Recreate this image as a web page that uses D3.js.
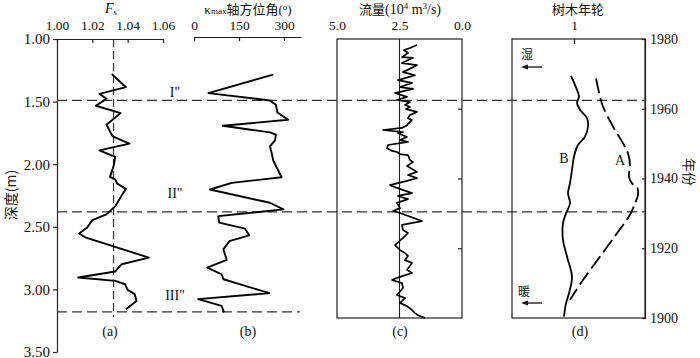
<!DOCTYPE html>
<html><head><meta charset="utf-8">
<script src="https://cdn.jsdelivr.net/npm/d3@7"></script>
<style>
body{margin:0;background:#fff;}
text{font-family:"Liberation Serif","Noto Sans CJK SC",serif;fill:#111;}
.cjk{font-family:"Noto Sans CJK SC","Liberation Serif",sans-serif;}
</style></head>
<body><svg id="c" width="700" height="358"></svg>
<script>
// ---------- data ----------
const depthTicks = [1.00, 1.50, 2.00, 2.50, 3.00, 3.50];
const fsTicks = [1.00, 1.02, 1.04, 1.06];
const azTicks = [0, 150, 300];
const flowTicks = [5.0, 2.5, 0.0];
const ringTicks = [1];
const yearTicks = [1980, 1960, 1940, 1920, 1900];
const innerYearTicks = [1960, 1940, 1920];

const fsDepth = [1.28,1.385,1.438,1.478,1.533,1.592,1.685,1.778,1.836,1.889,1.942,2.017,2.101,2.123,2.154,2.197,2.229,2.335,2.401,2.447,2.507,2.553,2.587,2.746,2.799,2.857,2.905,2.932,2.959,3.004,3.038,3.092,3.158];
const fsValues = [1.031,1.039,1.024,1.028,1.022,1.036,1.028,1.0315,1.041,1.024,1.033,1.032,1.030,1.033,1.034,1.039,1.0375,1.033,1.028,1.020,1.017,1.0125,1.0164,1.052,1.0366,1.033,1.012,1.033,1.0385,1.040,1.044,1.045,1.039];
const fsRef = 1.032;

const azDepth = [1.284,1.432,1.491,1.525,1.587,1.645,1.693,1.746,1.764,1.810,1.857,1.910,1.969,2.104,2.149,2.202,2.308,2.361,2.415,2.467,2.515,2.568,2.614,2.680,2.765,2.826,2.879,2.919,3.030,3.078,3.131,3.184];
const azValues = [264,48,253,273,278,314,96,253,273,270,253,259,264,292,126,53,253,298,81,84,170,184,118,98,109,44,92,98,251,14,92,100];

const flowYear = [1978.3,1977.4,1976.8,1976.0,1974.8,1974.6,1973.1,1972.5,1970.5,1969.6,1968.2,1967.4,1966.2,1965.7,1964.5,1963.4,1962.5,1961.9,1961.1,1960.5,1959.9,1959.1,1958.2,1957.3,1956.8,1955.3,1954.5,1953.9,1953.3,1953.0,1951.9,1951.0,1950.5,1949.6,1948.7,1947.9,1947.6,1947.0,1946.7,1945.3,1944.7,1943.6,1941.9,1941.0,1940.1,1939.3,1938.1,1937.3,1935.8,1935.0,1934.1,1933.0,1931.5,1930.7,1930.1,1927.8,1926.7,1925.2,1924.4,1923.5,1920.9,1919.5,1918.6,1917.8,1916.6,1915.8,1913.8,1912.9,1911.5,1910.9,1910.0,1908.6,1906.6,1905.7,1904.3,1903.4,1902.3,1901.4,1900.8,1900.0];
const flowValues = [1.80,2.08,2.32,2.16,2.40,1.96,2.40,1.80,2.36,1.88,2.56,2.00,2.48,1.96,2.68,2.20,2.60,2.08,2.28,2.08,2.24,1.80,2.08,2.16,2.00,2.20,2.40,3.16,2.36,2.56,2.20,2.48,2.16,2.96,3.00,2.80,2.60,2.48,2.16,2.08,1.96,2.20,1.80,2.16,1.80,2.20,2.88,2.60,2.00,2.56,2.16,2.60,2.48,2.76,2.48,1.60,2.40,2.36,2.16,2.28,2.68,2.48,2.28,2.16,2.28,2.00,2.20,2.00,2.60,2.80,2.40,2.36,2.60,2.28,2.48,2.20,2.00,1.88,1.76,1.48];
const flowRef = 2.5;

const ringBYear = [1969.4,1965.4,1963.5,1961.6,1959.7,1957.3,1954.9,1952.0,1949.6,1946.3,1942.5,1938.7,1935.8,1932.9,1930.0,1927.2,1922.4,1917.6,1911.8,1907.1,1904.2,1900.4];
const ringB = [0.97,1.03,1.05,1.03,1.06,1.13,1.14,1.11,1.04,1.00,0.98,0.96,0.94,0.96,0.92,0.89,0.89,0.93,0.98,0.95,0.92,0.90];
const ringAYear = [1968.7,1963.5,1960.6,1954.9,1950.1,1947.2,1943.9,1940.5,1938.6,1937.6,1935.3,1932.9,1929.6,1924.3,1917.6,1910.9,1905.2];
const ringA = [1.22,1.26,1.29,1.39,1.49,1.54,1.56,1.55,1.58,1.63,1.64,1.61,1.56,1.43,1.26,1.09,0.96];

const markerDepths = [1.49, 2.38, 3.18];
const romanLabels = ['I"', 'II"', 'III"'];
const romanDepths = [1.462, 2.266, 3.086];
const panelLabels = ['(a)', '(b)', '(c)', '(d)'];

// ---------- layout ----------
const svg = d3.select('#c');
svg.append('rect').attr('width',700).attr('height',358).attr('fill','#fff');

const depthY = d3.scaleLinear().domain([1.0, 3.5]).range([39, 352]);
const yearY = d3.scaleLinear().domain([1980, 1900]).range([39, 318]);
const fsX = d3.scaleLinear().domain([1.00, 1.06]).range([57, 163]);
const azX = d3.scaleLinear().domain([0, 357]).range([194, 301.1]);
const flowX = d3.scaleLinear().domain([5.0, 0.0]).range([337, 462]);
const ringX = d3.scaleLinear().domain([0.38, 1.71]).range([512, 645]);

const markerEnds = [645, 645, 300];
const panelLabelX = [110, 248, 400, 580];

function styleAxis(g, fs){
  g.selectAll('path,line').attr('stroke','#222').attr('stroke-width',1.2);
  g.selectAll('text').attr('font-size',fs).attr('fill','#111');
}

// left depth axis
const gl = svg.append('g').attr('transform','translate(57,0)')
  .call(d3.axisLeft(depthY).tickValues(depthTicks).tickFormat(d3.format('.2f')).tickSize(4).tickSizeOuter(0).tickPadding(3));
styleAxis(gl, 15);

// panel a top axis
const ga = svg.append('g').attr('transform','translate(0,39)')
  .call(d3.axisTop(fsX).tickValues(fsTicks).tickFormat(d3.format('.2f')).tickSizeInner(-4).tickSizeOuter(0).tickPadding(9));
styleAxis(ga, 13.5);

// panel b top axis
const gb = svg.append('g').attr('transform','translate(0,37)')
  .call(d3.axisTop(azX).tickValues(azTicks).tickFormat(d3.format('d')).tickSizeInner(-4).tickSizeOuter(0).tickPadding(7));
styleAxis(gb, 13.5);

// panel c box
svg.append('rect').attr('x',flowX(5)).attr('y',yearY(1980)).attr('width',flowX(0)-flowX(5)).attr('height',yearY(1900)-yearY(1980))
  .attr('fill','none').attr('stroke','#222').attr('stroke-width',1.2);
const gc = svg.append('g').attr('transform','translate(0,39)')
  .call(d3.axisTop(flowX).tickValues(flowTicks).tickFormat(d3.format('.1f')).tickSize(0).tickPadding(9));
gc.select('.domain').remove();
styleAxis(gc, 13.5);
const gci = svg.append('g').attr('transform',`translate(${flowX(0)},0)`)
  .call(d3.axisLeft(yearY).tickValues(innerYearTicks).tickSize(4).tickFormat(''));
gci.select('.domain').remove();
styleAxis(gci, 13);
svg.append('line').attr('x1',flowX(flowRef)).attr('x2',flowX(flowRef)).attr('y1',yearY(1980)).attr('y2',yearY(1900))
  .attr('stroke','#222').attr('stroke-width',1.1);

// panel d box
svg.append('rect').attr('x',ringX.range()[0]).attr('y',yearY(1980)).attr('width',ringX.range()[1]-ringX.range()[0]).attr('height',yearY(1900)-yearY(1980))
  .attr('fill','none').attr('stroke','#222').attr('stroke-width',1.2);
const gd = svg.append('g').attr('transform','translate(0,39)')
  .call(d3.axisTop(ringX).tickValues(ringTicks).tickFormat(d3.format('d')).tickSizeInner(-5).tickSizeOuter(0).tickPadding(9));
gd.select('.domain').remove();
styleAxis(gd, 13.5);
const gr = svg.append('g').attr('transform',`translate(${ringX.range()[1]},0)`)
  .call(d3.axisRight(yearY).tickValues(yearTicks).tickFormat(d3.format('d')).tickSizeInner(-3).tickSizeOuter(0).tickPadding(5));
gr.selectAll('.tick line').attr('x1',1);
styleAxis(gr, 14);

// marker dashed lines
markerDepths.forEach((d,i)=>{
  svg.append('line').attr('x1',57).attr('x2',markerEnds[i]).attr('y1',depthY(d)).attr('y2',depthY(d))
    .attr('stroke','#333').attr('stroke-width',1.3).attr('stroke-dasharray','10,5');
});
// Fs reference dashed
svg.append('line').attr('x1',fsX(fsRef)).attr('x2',fsX(fsRef)).attr('y1',depthY(1.0)).attr('y2',depthY(3.22))
  .attr('stroke','#333').attr('stroke-width',1.2).attr('stroke-dasharray','8,4');

// data lines
const lineStyle = p => p.attr('fill','none').attr('stroke','#000').attr('stroke-width',1.9).attr('stroke-linejoin','round');
svg.append('path').datum(d3.range(fsDepth.length))
  .attr('d', d3.line().x(i=>fsX(fsValues[i])).y(i=>depthY(fsDepth[i]))).call(lineStyle);
svg.append('path').datum(d3.range(azDepth.length))
  .attr('d', d3.line().x(i=>azX(azValues[i])).y(i=>depthY(azDepth[i]))).call(lineStyle);
svg.append('path').datum(d3.range(flowYear.length))
  .attr('d', d3.line().x(i=>flowX(flowValues[i])).y(i=>yearY(flowYear[i]))).call(lineStyle).attr('stroke-width',1.7);
svg.append('path').datum(d3.range(ringBYear.length))
  .attr('d', d3.line().curve(d3.curveCatmullRom).x(i=>ringX(ringB[i])).y(i=>yearY(ringBYear[i]))).call(lineStyle).attr('stroke-width',1.8);
svg.append('path').datum(d3.range(ringAYear.length))
  .attr('d', d3.line().curve(d3.curveCatmullRom).x(i=>ringX(ringA[i])).y(i=>yearY(ringAYear[i]))).call(lineStyle).attr('stroke-width',1.8).attr('stroke-dasharray','15,5');

// roman labels
romanLabels.forEach((t,i)=>{
  svg.append('text').attr('x',175).attr('y',depthY(romanDepths[i])).attr('text-anchor','middle').attr('font-size',14).text(t);
});
// panel labels
panelLabels.forEach((t,i)=>{
  svg.append('text').attr('x',panelLabelX[i]).attr('y',336).attr('text-anchor','middle').attr('font-size',14).text(t);
});

// titles
const tFs = svg.append('text').attr('x',111).attr('y',13).attr('text-anchor','middle');
tFs.append('tspan').attr('font-style','italic').attr('font-size',14).text('F');
tFs.append('tspan').attr('font-size',9).attr('dy',2).text('s');

const tAz = svg.append('text').attr('x',248).attr('y',14).attr('text-anchor','middle');
tAz.append('tspan').attr('font-size',13).text('κ');
tAz.append('tspan').attr('font-size',9).text('max');
tAz.append('tspan').attr('class','cjk').attr('font-size',13).text('轴方位角');
tAz.append('tspan').attr('font-size',13).text('(');
tAz.append('tspan').attr('font-size',9).attr('dy',-4).text('o');
tAz.append('tspan').attr('font-size',13).attr('dy',4).text(')');

const tFl = svg.append('text').attr('x',400).attr('y',14).attr('text-anchor','middle');
tFl.append('tspan').attr('class','cjk').attr('font-size',13).text('流量');
tFl.append('tspan').attr('font-size',14).text('(10');
tFl.append('tspan').attr('font-size',9).attr('dy',-5).text('4');
tFl.append('tspan').attr('font-size',14).attr('dy',5).text(' m');
tFl.append('tspan').attr('font-size',9).attr('dy',-5).text('3');
tFl.append('tspan').attr('font-size',14).attr('dy',5).text('/s)');

svg.append('text').attr('class','cjk').attr('x',578).attr('y',14).attr('text-anchor','middle').attr('font-size',13).text('树木年轮');

// axis titles
svg.append('text').attr('class','cjk').attr('transform','translate(16,195) rotate(-90)').attr('text-anchor','middle').attr('font-size',14).text('深度(m)');
svg.append('text').attr('class','cjk').attr('transform','translate(684,172) rotate(90)').attr('text-anchor','middle').attr('font-size',14).text('年份');

// panel d annotations
function arrow(y){
  svg.append('line').attr('x1',542).attr('x2',526).attr('y1',y).attr('y2',y).attr('stroke','#111').attr('stroke-width',1.3);
  svg.append('path').attr('d',`M521,${y}L528,${y-2.5}L528,${y+2.5}Z`).attr('fill','#111');
}
svg.append('text').attr('class','cjk').attr('x',527).attr('y',59).attr('text-anchor','middle').attr('font-size',12).text('湿');
arrow(67);
svg.append('text').attr('class','cjk').attr('x',524).attr('y',296).attr('text-anchor','middle').attr('font-size',12).text('暖');
arrow(303);
svg.append('text').attr('x',564).attr('y',163).attr('text-anchor','middle').attr('font-size',14).text('B');
svg.append('text').attr('x',620).attr('y',165).attr('text-anchor','middle').attr('font-size',14).text('A');
</script></body></html>
